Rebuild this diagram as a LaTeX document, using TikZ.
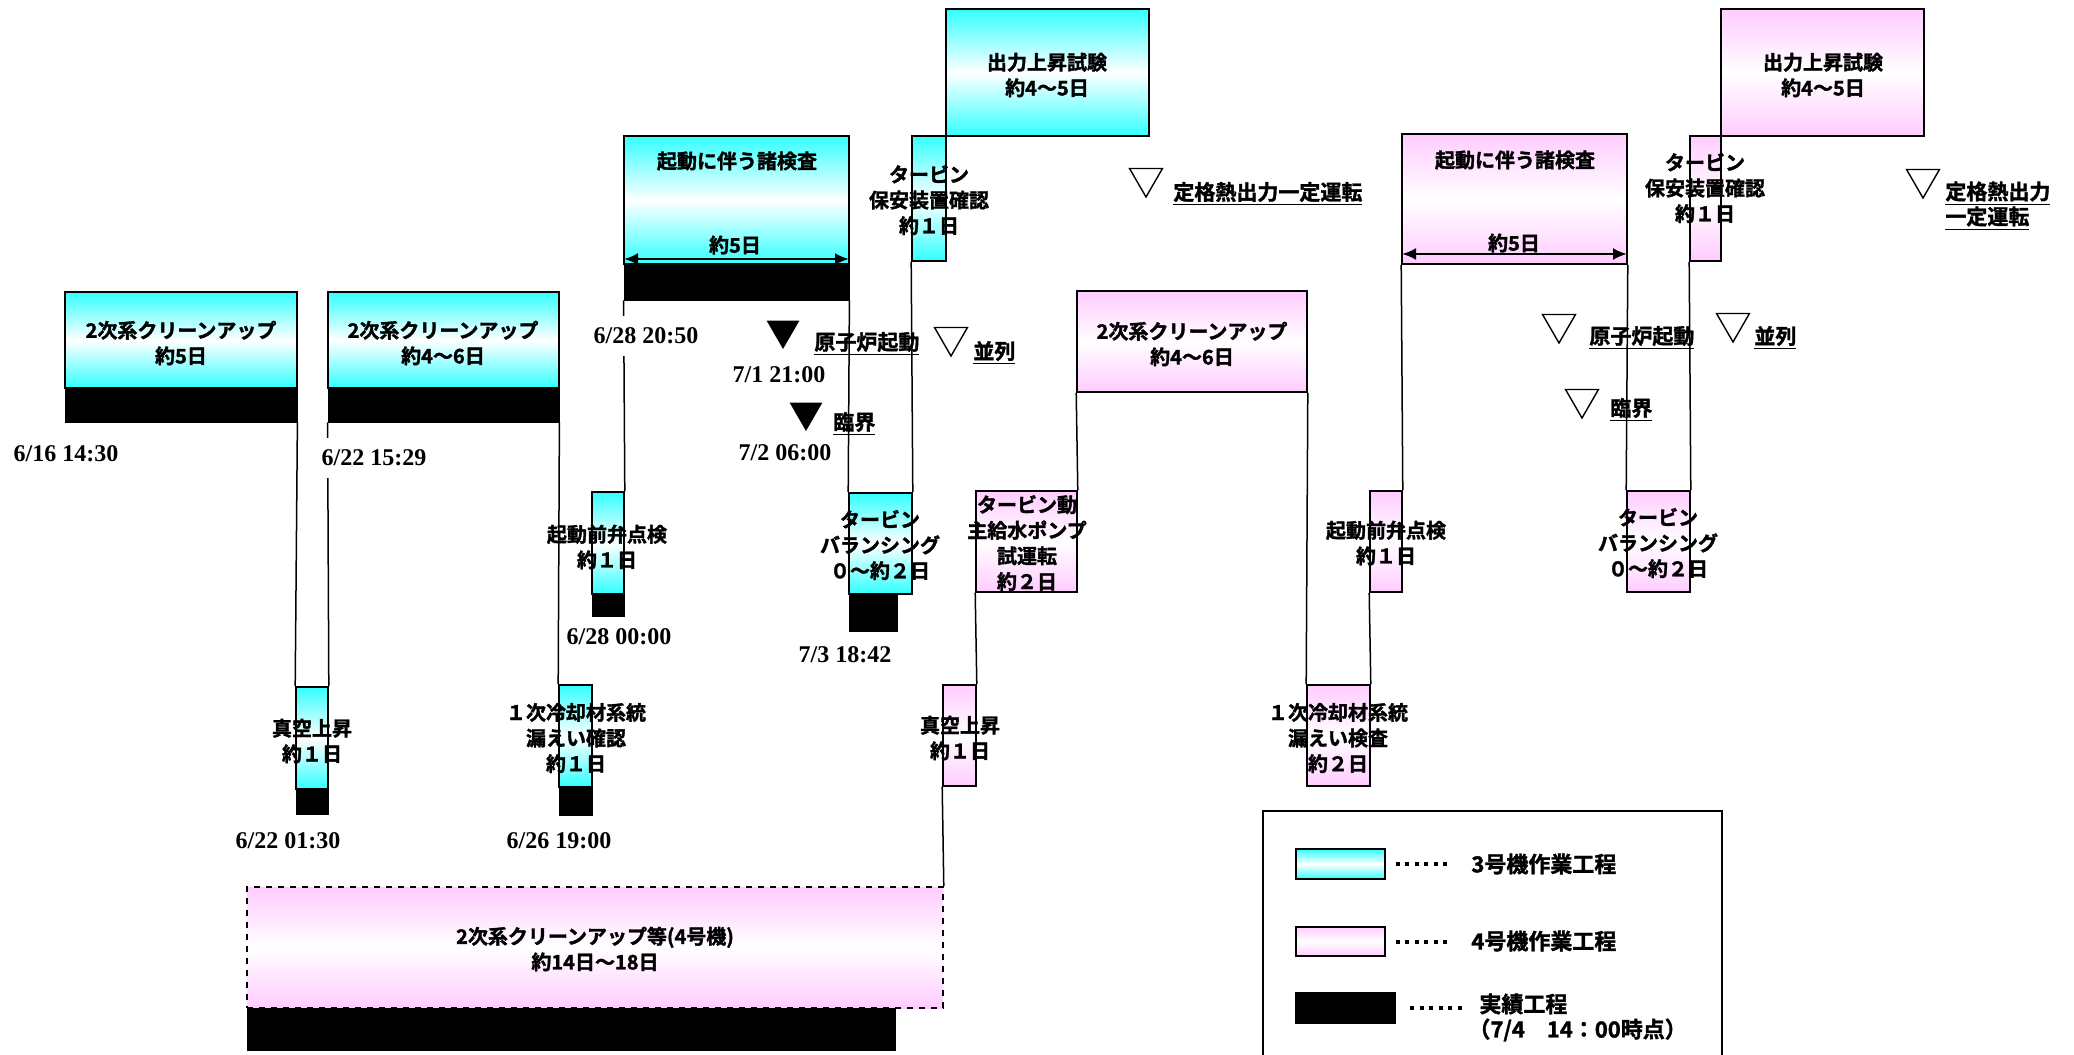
\documentclass[tikz,border=0pt]{standalone}
\usepackage{fontspec}
\setmainfont{Noto Sans CJK JP}[BoldFont={Noto Sans CJK JP Bold}, BoldFeatures={FakeBold=1.6}]
\newfontfamily\datefont{Liberation Serif}
\usetikzlibrary{fit,shapes.geometric,arrows.meta}
\definecolor{aqua3}{RGB}{51,255,255}
\definecolor{pink4}{RGB}{255,204,255}

\begin{document}
\begin{tikzpicture}[x=0.5pt,y=0.5pt,yscale=-1,xscale=1,
	box3/.style={draw, line width=0.8pt, top color=aqua3, bottom color=aqua3, middle color=white, inner sep=0pt},
	box4/.style={draw, line width=0.8pt, top color=pink4, bottom color=pink4, middle color=white, inner sep=0pt},
	donebar/.style={draw, fill=black, inner sep=0pt},
	worklbl/.style={font=\bfseries\fontsize{10}{12.8}\selectfont, align=center, inner sep=0pt},
	datelbl/.style={font=\datefont\bfseries\fontsize{12}{14}\selectfont, fill=white, inner xsep=1pt, inner ysep=6pt},
	eventlbl/.style={font=\bfseries\fontsize{10.5}{12.5}\selectfont, anchor=west, align=left, inner sep=0pt},
	trifull/.style={regular polygon, regular polygon sides=3, shape border rotate=180, minimum size=19pt, inner sep=0pt, fill=black},
	triopen/.style={regular polygon, regular polygon sides=3, shape border rotate=180, minimum size=19pt, inner sep=0pt, draw, line width=0.7pt},
	link/.style={line width=0.75pt},
	span/.style={line width=1.2pt, {Latex[length=7pt,width=6pt]}-{Latex[length=7pt,width=6pt]}},
	dotrow/.style={line width=2pt, dash pattern=on 2pt off 2.75pt}]
	\useasboundingbox (0,0) rectangle (2074,1055);
	
	%Shape: Rectangle (unit 3)
	\node[box3, fit={(65,292) (297,388)}] (cln31) {};
	\node[donebar, fit={(65,388) (297,422)}] (bar31) {};
	\node[box3, fit={(328,292) (559,388)}] (cln32) {};
	\node[donebar, fit={(328,388) (559,422)}] (bar32) {};
	\node[box3, fit={(296,687) (328,789)}] (vac3) {};
	\node[donebar, fit={(296,789) (328,814)}] (bar33) {};
	\node[box3, fit={(559,685) (592,787)}] (leak3) {};
	\node[donebar, fit={(559,787) (592,815)}] (bar34) {};
	\node[box3, fit={(592,492) (624,594)}] (valve3) {};
	\node[donebar, fit={(592,594) (624,620)}] (bar35) {};
	\node[box3, fit={(624,136) (849,264)}] (insp3) {};
	\node[donebar, fit={(624,264) (849,300)}] (bar36) {};
	\node[box3, fit={(849,493) (912,594)}] (bal3) {};
	\node[donebar, fit={(849,594) (897,631)}] (bar37) {};
	\node[box3, fit={(912,136) (946,261)}] (safe3) {};
	\node[box3, fit={(946,9) (1149,136)}] (pwr3) {};
	
	%Shape: Rectangle (unit 4)
	\node[box4, dashed, fit={(247,887) (943,1008)}] (big4) {};
	\node[donebar, fit={(247,1008) (895,1050)}] (bar41) {};
	\node[box4, fit={(943,685) (976,786)}] (vac4) {};
	\node[box4, fit={(976,491) (1077,592)}] (pump4) {};
	\node[box4, fit={(1077,291) (1307,392)}] (cln4) {};
	\node[box4, fit={(1307,685) (1370,786)}] (leak4) {};
	\node[box4, fit={(1370,491) (1402,592)}] (valve4) {};
	\node[box4, fit={(1402,134) (1627,264)}] (insp4) {};
	\node[box4, fit={(1627,491) (1690,592)}] (bal4) {};
	\node[box4, fit={(1690,136) (1721,261)}] (safe4) {};
	\node[box4, fit={(1721,9) (1924,136)}] (pwr4) {};
	
	%Straight Lines
	\draw[link] (bar31.south east) -- (vac3.north west);
	\draw[link] (bar32.south west) -- (vac3.north east);
	\draw[link] (bar32.south east) -- (leak3.north west);
	\draw[link] (valve3.north east) -- (bar36.south west);
	\draw[link] (bar36.south east) -- (bal3.north west);
	\draw[link] (bal3.north east) -- (safe3.south west);
	\draw[link] (big4.north east) -- (vac4.south west);
	\draw[link] (vac4.north east) -- (pump4.south west);
	\draw[link] (pump4.north east) -- (cln4.south west);
	\draw[link] (cln4.south east) -- (leak4.north west);
	\draw[link] (leak4.north east) -- (valve4.south west);
	\draw[link] (valve4.north east) -- (insp4.south west);
	\draw[link] (insp4.south east) -- (bal4.north west);
	\draw[link] (bal4.north east) -- (safe4.south west);
	
	%Arrows
	\coordinate (s3l) at (624,259);
	\coordinate (s3r) at (849,259);
	\draw[span] (s3l) -- (s3r);
	\coordinate (s4l) at (1402,254);
	\coordinate (s4r) at (1627,254);
	\draw[span] (s4l) -- (s4r);
	
	% Text Node (work)
	\node[worklbl] (tcln31) at (181,343) {2次系クリーンアップ\\約5日};
	\node[worklbl] (tcln32) at (443,343) {2次系クリーンアップ\\約4～6日};
	\node[worklbl] (tvac3) at (312,741) {真空上昇\\約１日};
	\node[worklbl] (tleak3) at (576,738) {１次冷却材系統\\漏えい確認\\約１日};
	\node[worklbl] (tvalve3) at (607,547) {起動前弁点検\\約１日};
	\node[worklbl] (tinsp3) at (737,161) {起動に伴う諸検査};
	\node[worklbl] (tday3) at (735,245) {約5日};
	\node[worklbl] (tbal3) at (880,545) {タービン\\バランシング\\０～約２日};
	\node[worklbl] (tsafe3) at (929,200) {タービン\\保安装置確認\\約１日};
	\node[worklbl] (tpwr3) at (1047,75) {出力上昇試験\\約4～5日};
	\node[worklbl] (tbig4) at (595,949) {2次系クリーンアップ等(4号機)\\約14日～18日};
	\node[worklbl] (tvac4) at (960,738) {真空上昇\\約１日};
	\node[worklbl] (tpump4) at (1027,543) {タービン動\\主給水ポンプ\\試運転\\約２日};
	\node[worklbl] (tcln4) at (1192,344) {2次系クリーンアップ\\約4～6日};
	\node[worklbl] (tleak4) at (1338,738) {１次冷却材系統\\漏えい検査\\約２日};
	\node[worklbl] (tvalve4) at (1386,543) {起動前弁点検\\約１日};
	\node[worklbl] (tinsp4) at (1515,160) {起動に伴う諸検査};
	\node[worklbl] (tday4) at (1514,243) {約5日};
	\node[worklbl] (tbal4) at (1658,543) {タービン\\バランシング\\０～約２日};
	\node[worklbl] (tsafe4) at (1705,188) {タービン\\保安装置確認\\約１日};
	\node[worklbl] (tpwr4) at (1823,75) {出力上昇試験\\約4～5日};
	
	% Text Node (dates)
	\node[datelbl] (d0616) at (66,454) {6/16 14:30};
	\node[datelbl] (d0622a) at (374,458) {6/22 15:29};
	\node[datelbl] (d0628a) at (646,336) {6/28 20:50};
	\node[datelbl] (d0628b) at (619,637) {6/28 00:00};
	\node[datelbl] (d0622b) at (288,841) {6/22 01:30};
	\node[datelbl] (d0626) at (559,841) {6/26 19:00};
	\node[datelbl] (d0701) at (779,375) {7/1 21:00};
	\node[datelbl] (d0702) at (785,453) {7/2 06:00};
	\node[datelbl] (d0703) at (845,655) {7/3 18:42};
	
	% Events
	\node[trifull] (up3) at (783,330) {};
	\node[eventlbl] (eup3) at (814,344) {\underline{原子炉起動}};
	\node[trifull] (crit3) at (806,412) {};
	\node[eventlbl] (ecrit3) at (833,424) {\underline{臨界}};
	\node[triopen] (par3) at (951,337) {};
	\node[eventlbl] (epar3) at (973,353) {\underline{並列}};
	\node[triopen] (full3) at (1146,178) {};
	\node[eventlbl] (efull3) at (1173,194) {\underline{定格熱出力一定運転}};
	\node[triopen] (up4) at (1559,324) {};
	\node[eventlbl] (eup4) at (1589,338) {\underline{原子炉起動}};
	\node[triopen] (par4) at (1733,323) {};
	\node[eventlbl] (epar4) at (1754,338) {\underline{並列}};
	\node[triopen] (crit4) at (1582,399) {};
	\node[eventlbl] (ecrit4) at (1610,410) {\underline{臨界}};
	\node[triopen] (full4) at (1923,179) {};
	\node[eventlbl] (efull4) at (1945,206) {\underline{定格熱出力}\\\underline{一定運転}};
	
	% Legend
	\node[draw, line width=0.8pt, inner sep=0pt, fit={(1263,811) (1722,1075)}] (legend) {};
	\node[box3, fit={(1296,849) (1385,879)}] (key3) {};
	\node[box4, fit={(1296,927) (1385,956)}] (key4) {};
	\node[donebar, fit={(1295,992) (1395,1023)}] (keydone) {};
	\draw[dotrow] ([xshift=5pt]key3.east) -- ++(55,0);
	\draw[dotrow] ([xshift=5pt]key4.east) -- ++(55,0);
	\draw[dotrow] ([xshift=7.5pt]keydone.east) -- ++(55,0);
	\node[eventlbl, font=\bfseries\fontsize{11}{13}\selectfont] (lkey3) at (1471,864) {3号機作業工程};
	\node[eventlbl, font=\bfseries\fontsize{11}{13}\selectfont] (lkey4) at (1471,941) {4号機作業工程};
	\node[eventlbl, font=\bfseries\fontsize{11}{13}\selectfont] (lkeydone) at (1479,1004) {実績工程};
	\node[eventlbl, font=\bfseries\fontsize{11}{13}\selectfont] (lkeytime) at (1468,1030) {（7/4　14：00時点）};
	
\end{tikzpicture}
\end{document}
